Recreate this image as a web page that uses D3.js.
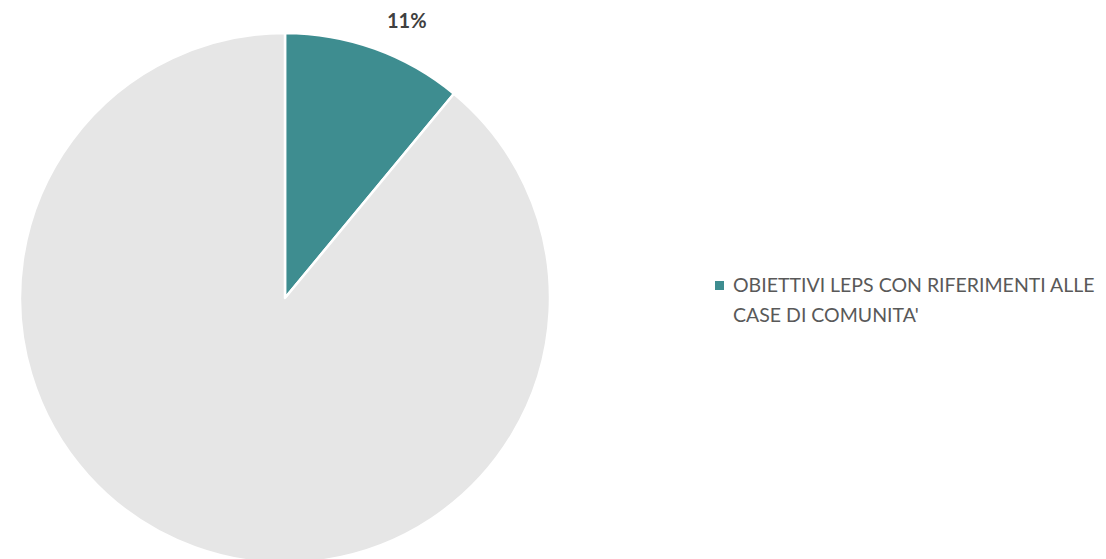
<!DOCTYPE html>
<html>
<head>
<meta charset="utf-8">
<script src="https://cdn.jsdelivr.net/npm/d3@7"></script>
<style>
  html, body { margin: 0; padding: 0; background: #fff; }
  svg { display: block; }
</style>
</head>
<body>
<svg id="chart" width="1106" height="559"></svg>
<script>
// Share of LEPS objectives referring to community houses
const categories = ["OBIETTIVI LEPS CON RIFERIMENTI ALLE CASE DI COMUNITA'", "ALTRI OBIETTIVI"];
const values = [11, 89];
const colors = ["#3e8d90", "#e6e6e6"];
const showLabel = [true, false];
const showInLegend = [true, false];
const legendLines = [["OBIETTIVI LEPS CON RIFERIMENTI ALLE", "CASE DI COMUNITA'"]];

const svg = d3.select("#chart");
const cx = 285, cy = 298, r = 265;

const pie = d3.pie().sort(null).value(d => d.value);
const arcs = pie(categories.map((c, i) => ({ name: c, value: values[i], i })));
const arc = d3.arc().innerRadius(0).outerRadius(r);

const g = svg.append("g").attr("transform", `translate(${cx},${cy})`);
g.selectAll("path")
  .data(arcs)
  .join("path")
  .attr("d", arc)
  .attr("fill", d => colors[d.data.i])
  .attr("stroke", "#fff")
  .attr("stroke-width", 2.5)
  .attr("stroke-linejoin", "round");

// Outside-end data label, placed beyond the arc's outer edge
const total = d3.sum(values);
g.selectAll("text.lbl")
  .data(arcs.filter(d => showLabel[d.data.i]))
  .join("text")
  .attr("class", "lbl")
  .attr("x", d => {
    const a = (d.startAngle + d.endAngle) / 2;
    return Math.sin(a) * r + 32;
  })
  .attr("y", d => {
    const a = (d.startAngle + d.endAngle) / 2;
    return -Math.cos(a) * r - 21;
  })
  .attr("text-anchor", "middle")
  .attr("font-family", "Lato, 'Open Sans', sans-serif")
  .attr("font-weight", "bold")
  .attr("font-size", 20)
  .attr("fill", "#404040")
  .text(d => Math.round(d.data.value / total * 100) + "%");

// Legend
const legend = svg.append("g").attr("transform", "translate(715,281)");
const items = arcs.filter(d => showInLegend[d.data.i]);
items.forEach((d, k) => {
  const item = legend.append("g").attr("transform", `translate(0,${k * 60})`);
  item.append("rect")
    .attr("x", 0).attr("y", 0).attr("width", 9).attr("height", 9)
    .attr("fill", colors[d.data.i]);
  const t = item.append("text")
    .attr("x", 18).attr("y", 11)
    .attr("font-family", "Lato, 'Open Sans', sans-serif")
    .attr("font-size", 19.5)
    .attr("fill", "#595959");
  legendLines[k].forEach((line, j) => {
    t.append("tspan").attr("x", 18).attr("dy", j === 0 ? 0 : 30).text(line);
  });
});
</script>
</body>
</html>
